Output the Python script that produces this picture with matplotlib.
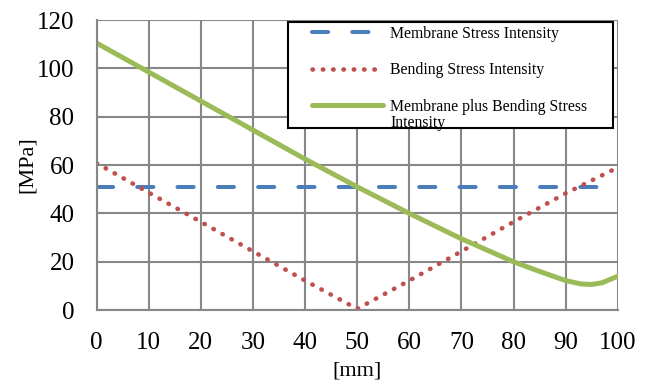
import matplotlib.pyplot as plt
from matplotlib.ticker import MultipleLocator
from matplotlib.patches import Rectangle

# data
x_mm = [0, 10, 20, 30, 40, 50, 60, 70, 80, 100]
membrane = [51, 51, 51, 51, 51, 51, 51, 51, 51, 51]

x_bend = [0, 10, 20, 30, 40, 50, 60, 70, 80, 90, 100]
bending = [60.8, 48.6, 36.5, 24.3, 12.2, 0.5, 12.2, 24.3, 36.5, 48.3, 59]

x_total = [0, 10, 20, 30, 40, 50, 60, 70, 80, 85, 90, 93, 95, 97, 100]
total = [110.5, 98.5, 86.5, 74.5, 62.5, 51, 40, 29.5, 20, 16, 12.2, 10.8, 10.6, 11.3, 14]

plt.rcParams['font.family'] = ['Liberation Serif', 'DejaVu Serif']

fig = plt.figure(figsize=(6.53, 3.8), dpi=100)
ax = fig.add_axes([0.148, 0.184, 0.798, 0.763])

ax.plot(x_mm, membrane, color='#4a7ebb', lw=2.9, dashes=(4, 6),
        dash_capstyle='round', label='Membrane Stress Intensity')
ax.plot(x_bend, bending, color='#c0504d', lw=3.3, dashes=(0.1, 2.15),
        dash_capstyle='round', label='Bending Stress Intensity')
ax.plot(x_total, total, color='#9bbb59', lw=3.6, solid_capstyle='round',
        label='Membrane plus Bending Stress')

ax.set_xlim(0, 100)
ax.set_ylim(0, 120)
ax.xaxis.set_major_locator(MultipleLocator(10))
ax.yaxis.set_major_locator(MultipleLocator(20))
ax.grid(True, color='#878787', lw=1.5)
ax.set_axisbelow(True)
for side in ['top', 'right']:
    ax.spines[side].set_visible(False)
for side in ['left', 'bottom']:
    ax.spines[side].set_color('#878787')
    ax.spines[side].set_linewidth(1.5)
ax.tick_params(length=0, labelsize=18, pad=16)

ax.set_xlabel('[mm]', fontsize=16, labelpad=5)
ax.set_ylabel('[MPa]', fontsize=16, labelpad=0)

# legend box drawn by hand so the side padding can be wider than the top one
ax.add_patch(Rectangle((0.368, 0.628), 0.622, 0.365, transform=ax.transAxes,
                       facecolor='white', edgecolor='black', lw=1.5, zorder=4))
leg = ax.legend(loc='upper left', bbox_to_anchor=(0.414, 0.98), fontsize=11.3,
                frameon=False, handlelength=4.5, handletextpad=0.45,
                labelspacing=1.3, borderpad=0, borderaxespad=0)
leg.set_zorder(5)
# wrapped second line of the third legend label
ax.text(0.563, 0.646, 'Intensity', transform=ax.transAxes, fontsize=11.3,
        va='center', ha='left', zorder=6)

fig.savefig('out.png', dpi=100)
